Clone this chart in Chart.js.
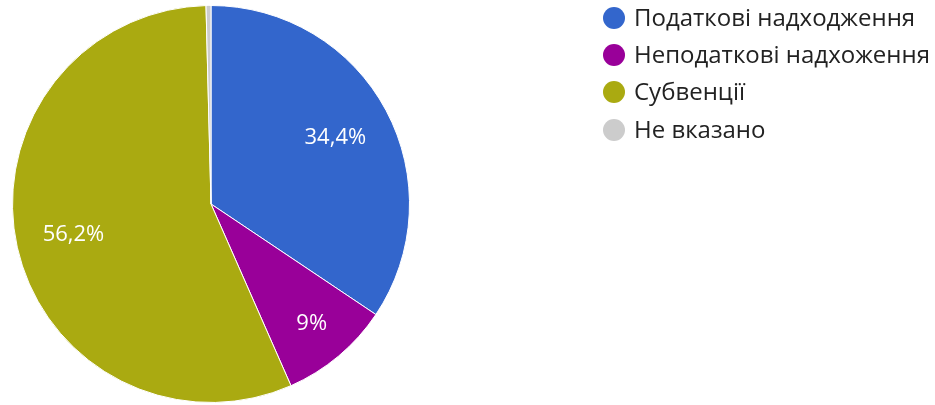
<!DOCTYPE html>
<html lang="uk">
<head>
  <meta charset="UTF-8">
  <title>Структура доходів</title>
  <style>
    body { margin: 0; background: #fff; }
    #wrap { position: relative; width: 935px; height: 405px; }
    #legend { position: absolute; left: 603px; top: 0; font-family: "Open Sans", sans-serif; font-size: 24px; color: #222; }
    #legend div { position: absolute; white-space: nowrap; height: 22px; display: flex; align-items: center; }
    #legend span { display: inline-block; width: 22px; height: 22px; border-radius: 50%; margin-right: 9px; flex: none; }
    #legend b { font-weight: normal; line-height: 22px; position: relative; top: -1px; }
  </style>
</head>
<body>
  <div id="wrap">
    <canvas id="graphic" width="935" height="405"></canvas>
    <div id="legend"></div>
  </div>

  <script src="https://cdn.jsdelivr.net/npm/chart.js"></script>
  <script>
    const categories = ['Податкові надходження', 'Неподаткові надхоження', 'Субвенції', 'Не вказано'];
    const shares = [34.4, 9, 56.2, 0.4];
    const sliceLabels = ['34,4%', '9%', '56,2%', ''];
    const colors = ['#3366cc', '#990099', '#aaaa11', '#cccccc'];

    // підписи всередині секторів
    const labelRadius = [0.71, 0.79, 0.71, 0.71];
    const sliceText = {
      id: 'sliceText',
      afterDatasetsDraw(chart) {
        const ctx = chart.ctx;
        const arcs = chart.getDatasetMeta(0).data;
        ctx.save();
        ctx.font = '22px "Open Sans", sans-serif';
        ctx.fillStyle = '#ffffff';
        ctx.textAlign = 'center';
        ctx.textBaseline = 'middle';
        arcs.forEach((arc, i) => {
          if (!sliceLabels[i]) return;
          const mid = (arc.startAngle + arc.endAngle) / 2;
          const r = arc.outerRadius * labelRadius[i];
          ctx.fillText(sliceLabels[i], arc.x + Math.cos(mid) * r, arc.y + Math.sin(mid) * r);
        });
        ctx.restore();
      }
    };

    new Chart(document.getElementById('graphic'), {
      type: 'pie',
      data: {
        labels: categories,
        datasets: [{
          data: shares,
          backgroundColor: colors,
          borderColor: '#ffffff',
          borderWidth: 1
        }]
      },
      options: {
        responsive: false,
        animation: false,
        layout: { padding: { left: 12, right: 525, top: 5, bottom: 2 } },
        plugins: {
          legend: { display: false },
          tooltip: { enabled: false }
        }
      },
      plugins: [sliceText]
    });

    const legend = document.getElementById('legend');
    const rowTops = [7, 44, 81, 119];
    categories.forEach((name, i) => {
      const row = document.createElement('div');
      row.style.top = rowTops[i] + 'px';
      row.innerHTML = '<span style="background:' + colors[i] + '"></span><b>' + name + '</b>';
      legend.appendChild(row);
    });
  </script>
</body>
</html>
